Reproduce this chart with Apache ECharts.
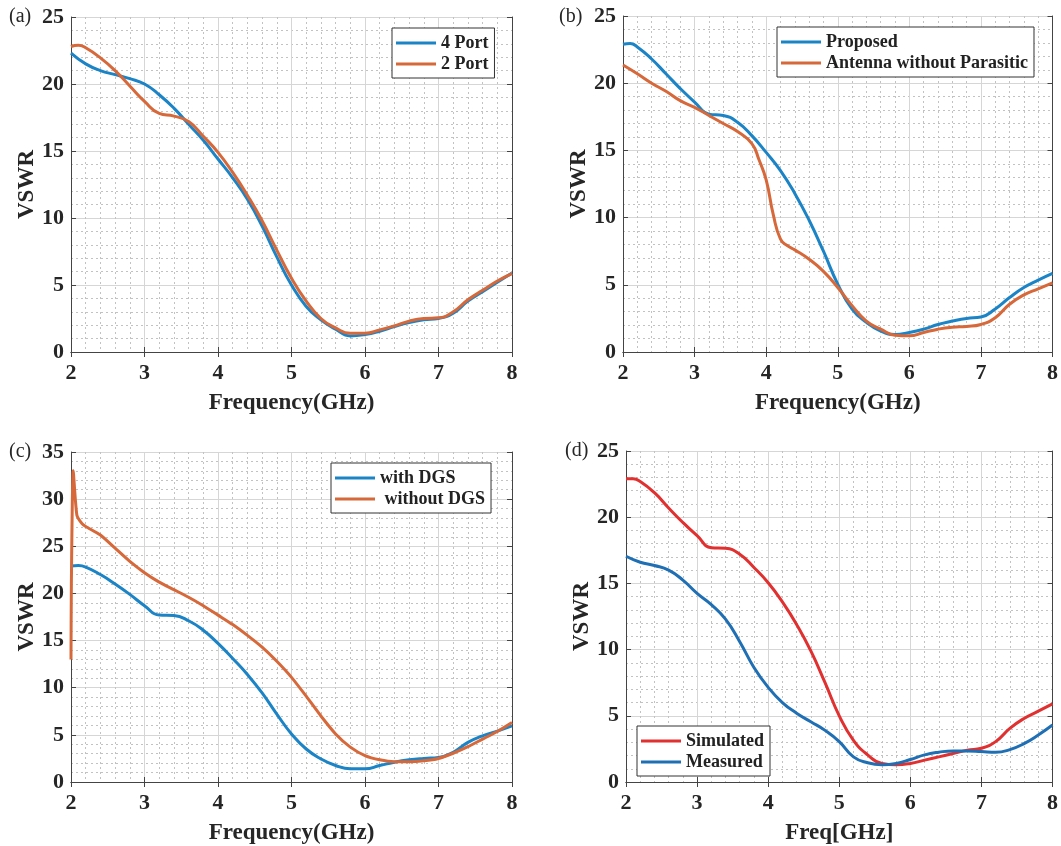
<!DOCTYPE html>
<html>
<head>
<meta charset="utf-8">
<script src="https://cdn.jsdelivr.net/npm/echarts@6/dist/echarts.min.js"></script>
<style>
  html, body { margin: 0; padding: 0; background: #fff; }
  #chart { width: 1061px; height: 846px; }
</style>
</head>
<body>
<div id="chart"></div>
<script>
// frequency grids (GHz)
const freq = [2.0, 2.2, 2.4, 2.6, 2.8, 3.0, 3.2, 3.4, 3.6, 3.8, 4.0, 4.2, 4.4, 4.6, 4.8, 5.0,
  5.2, 5.4, 5.6, 5.8, 6.0, 6.2, 6.4, 6.6, 6.8, 7.0, 7.2, 7.4, 7.6, 7.8, 8.0]
const freqFine = [2.0, 2.1, 2.2, 2.4, 2.6, 2.8, 3.0, 3.2, 3.4, 3.6, 3.8, 4.0, 4.2, 4.4, 4.6, 4.8, 5.0,
  5.2, 5.4, 5.6, 5.8, 6.0, 6.2, 6.4, 6.6, 6.8, 7.0, 7.2, 7.4, 7.6, 7.8, 8.0]
const freqParasitic = [2.0, 2.2, 2.4, 2.6, 2.8, 3.0, 3.2, 3.4, 3.6, 3.8, 3.9, 4.0, 4.1, 4.2, 4.3, 4.4,
  4.6, 4.8, 5.0, 5.2, 5.4, 5.6, 5.8, 6.0, 6.2, 6.4, 6.6, 6.8, 7.0, 7.2, 7.4, 7.6, 7.8, 8.0]
const freqNoDGS = [2.0, 2.005, 2.03, 2.08, 2.15, 2.2, 2.4, 2.6, 2.8, 3.0, 3.2, 3.4, 3.6, 3.8, 4.0, 4.2,
  4.4, 4.6, 4.8, 5.0, 5.2, 5.4, 5.6, 5.8, 6.0, 6.2, 6.4, 6.6, 6.8, 7.0, 7.2, 7.4, 7.6, 7.8, 8.0]

// (a) 4 port vs 2 port
const port4 = [22.3, 21.5, 21.0, 20.7, 20.4, 20.0, 19.2, 18.2, 17.0, 15.8, 14.4, 13.0, 11.4, 9.4, 7.1, 5.0,
  3.4, 2.4, 1.7, 1.2, 1.3, 1.55, 1.9, 2.2, 2.4, 2.5, 2.9, 3.8, 4.5, 5.2, 5.9]
const port2 = [22.8, 22.9, 22.7, 21.95, 21.0, 19.85, 18.7, 17.8, 17.6, 17.2, 16.1, 14.9, 13.4, 11.7, 9.8, 7.6,
  5.5, 3.8, 2.5, 1.8, 1.4, 1.4, 1.65, 1.95, 2.3, 2.5, 2.55, 3.0, 3.9, 4.6, 5.3, 5.85]

// (b) proposed vs without parasitic
const proposed = [22.9, 22.95, 22.7, 21.8, 20.7, 19.6, 18.6, 17.7, 17.6, 17.1, 16.1, 14.85, 13.5, 11.8, 9.8, 7.5,
  5.05, 3.2, 2.2, 1.55, 1.3, 1.45, 1.7, 2.05, 2.3, 2.5, 2.6, 3.2, 4.05, 4.8, 5.35, 5.85]
const noParasitic = [21.35, 20.7, 20.0, 19.4, 18.7, 18.2, 17.6, 17.0, 16.4, 15.5, 14.3, 12.8, 10.2, 8.4, 7.9, 7.6,
  6.9, 6.0, 4.8, 3.45, 2.3, 1.7, 1.25, 1.2, 1.45, 1.7, 1.85, 1.9, 2.05, 2.55, 3.55, 4.25, 4.7, 5.15]

// (c) with / without DGS
const withDGS = [22.9, 22.95, 22.8, 22.0, 21.0, 19.9, 18.7, 17.7, 17.65, 17.1, 16.1, 14.7, 13.1, 11.4, 9.45, 7.2,
  5.1, 3.5, 2.45, 1.75, 1.4, 1.4, 1.75, 2.1, 2.35, 2.5, 2.6, 3.15, 4.2, 4.9, 5.4, 5.95]
const withoutDGS = [13, 21, 33, 28.3, 27.4, 27.1, 26.2, 24.8, 23.4, 22.2, 21.2, 20.4, 19.6, 18.7, 17.7, 16.7,
  15.55, 14.3, 12.8, 11.1, 9.1, 7.0, 5.1, 3.7, 2.8, 2.35, 2.15, 2.15, 2.25, 2.5, 3.05, 3.75, 4.55, 5.35, 6.3]

// (d) simulated vs measured
const simulated = [22.9, 22.9, 22.7, 21.85, 20.7, 19.6, 18.6, 17.7, 17.65, 17.2, 16.2, 15.05, 13.6, 11.9, 9.9, 7.5,
  5.0, 3.15, 2.05, 1.4, 1.3, 1.4, 1.65, 1.9, 2.15, 2.4, 2.55, 3.05, 4.05, 4.8, 5.35, 5.9]
const measured = [17.05, 16.6, 16.35, 16.0, 15.25, 14.25, 13.4, 12.3, 10.6, 8.65, 7.15, 6.0, 5.2, 4.55, 3.9, 3.05,
  1.9, 1.45, 1.3, 1.4, 1.7, 2.05, 2.25, 2.35, 2.35, 2.3, 2.25, 2.45, 2.9, 3.55, 4.3]

const xTicks = [2, 3, 4, 5, 6, 7, 8]

const FONT = "'Liberation Serif', 'Times New Roman', serif"
const BLUE = '#1b84c6'
const ORANGE = '#d6683a'
const RED = '#e0302f'
const DBLUE = '#1f6fb4'

function zip(xs, ys) {
  return xs.map((x, i) => [x, ys[i]])
}

// plot areas
const grids = [
  { left: 71, top: 17, width: 441, height: 335 },
  { left: 623, top: 16, width: 434, height: 336 },
  { left: 71, top: 452, width: 441, height: 333 },
  { left: 626, top: 451, width: 432, height: 335 }
]
const xNames = ['Frequency(GHz)', 'Frequency(GHz)', 'Frequency(GHz)', 'Freq[GHz]']
const yMax = [25, 25, 35, 25]

const xAxes = []
const yAxes = []
grids.forEach((g, i) => {
  xAxes.push({
    gridIndex: i, type: 'value', min: xTicks[0], max: xTicks[xTicks.length - 1], interval: 1,
    name: xNames[i], nameLocation: 'middle', nameGap: 40,
    nameTextStyle: { fontFamily: FONT, fontWeight: 'bold', fontSize: 23, color: '#262626' },
    axisLine: { show: true, lineStyle: { color: '#444', width: 1 } },
    axisTick: { show: true, inside: true, length: 5, lineStyle: { color: '#444' } },
    axisLabel: { margin: 10, fontFamily: FONT, fontWeight: 'bold', fontSize: 22, color: '#262626' },
    splitLine: { show: true, lineStyle: { color: '#d6d6d6', width: 1 } },
    minorTick: { show: false, splitNumber: 5 },
    minorSplitLine: { show: true, lineStyle: { color: '#c2c2c2', width: 1, type: [2, 3] } }
  })
  yAxes.push({
    gridIndex: i, type: 'value', min: 0, max: yMax[i], interval: 5,
    name: 'VSWR', nameLocation: 'middle', nameGap: 31,
    nameTextStyle: { fontFamily: FONT, fontWeight: 'bold', fontSize: 23, color: '#262626' },
    axisLine: { show: true, lineStyle: { color: '#444', width: 1 } },
    axisTick: { show: true, inside: true, length: 5, lineStyle: { color: '#444' } },
    axisLabel: { margin: 7, fontFamily: FONT, fontWeight: 'bold', fontSize: 22, color: '#262626' },
    splitLine: { show: true, lineStyle: { color: '#d6d6d6', width: 1 } },
    minorTick: { show: false, splitNumber: 5 },
    minorSplitLine: { show: true, lineStyle: { color: '#c2c2c2', width: 1, type: [2, 3] } }
  })
})
// box edges on top / right with inward ticks
grids.forEach((g, i) => {
  xAxes.push({
    gridIndex: i, type: 'value', position: 'top', min: 2, max: 8, interval: 1,
    axisLine: { show: true, lineStyle: { color: '#444', width: 1 } },
    axisTick: { show: true, inside: true, length: 5, lineStyle: { color: '#444' } },
    axisLabel: { show: false }, splitLine: { show: false }
  })
  yAxes.push({
    gridIndex: i, type: 'value', position: 'right', min: 0, max: yMax[i], interval: 5,
    axisLine: { show: true, lineStyle: { color: '#444', width: 1 } },
    axisTick: { show: true, inside: true, length: 5, lineStyle: { color: '#444' } },
    axisLabel: { show: false }, splitLine: { show: false }
  })
})

function line(name, idx, xs, ys, color, smooth) {
  return {
    name: name, type: 'line', xAxisIndex: idx, yAxisIndex: idx,
    data: zip(xs, ys), showSymbol: false, symbol: 'none',
    smooth: smooth === undefined ? 0.5 : smooth,
    lineStyle: { color: color, width: 3 }, itemStyle: { color: color },
    z: 3
  }
}

const series = [
  line('4 Port', 0, freq, port4, BLUE),
  line('2 Port', 0, freqFine, port2, ORANGE),
  line('Proposed', 1, freqFine, proposed, BLUE),
  line('Antenna without Parasitic', 1, freqParasitic, noParasitic, ORANGE),
  line('with DGS', 2, freqFine, withDGS, BLUE),
  line(' without DGS', 2, freqNoDGS, withoutDGS, ORANGE, 0.2),
  line('Simulated', 3, freqFine, simulated, RED),
  line('Measured', 3, freq, measured, DBLUE)
]

function legend(names, left, top) {
  return {
    data: names, orient: 'vertical', left: left, top: top,
    icon: 'rect',
    backgroundColor: '#fff', borderColor: '#333', borderWidth: 1,
    padding: [6, 6, 5, 4], itemGap: 3, itemWidth: 40, itemHeight: 3,
    textStyle: { fontFamily: FONT, fontWeight: 'bold', fontSize: 18, lineHeight: 18, color: '#222' }
  }
}

const chart = echarts.init(document.getElementById('chart'), null, { renderer: 'canvas' })
chart.setOption({
  animation: false,
  backgroundColor: '#fff',
  grid: grids,
  xAxis: xAxes,
  yAxis: yAxes,
  legend: [
    legend(['4 Port', '2 Port'], 392, 28),
    legend(['Proposed', 'Antenna without Parasitic'], 777, 27),
    legend(['with DGS', ' without DGS'], 331, 463),
    legend(['Simulated', 'Measured'], 637, 726)
  ],
  graphic: [
    { type: 'text', left: 9, top: 7, style: { text: '(a)', font: '20px ' + FONT, fill: '#262626' } },
    { type: 'text', left: 559, top: 7, style: { text: '(b)', font: '20px ' + FONT, fill: '#262626' } },
    { type: 'text', left: 9, top: 442, style: { text: '(c)', font: '20px ' + FONT, fill: '#262626' } },
    { type: 'text', left: 565, top: 441, style: { text: '(d)', font: '20px ' + FONT, fill: '#262626' } }
  ],
  series: series
})
</script>
</body>
</html>
